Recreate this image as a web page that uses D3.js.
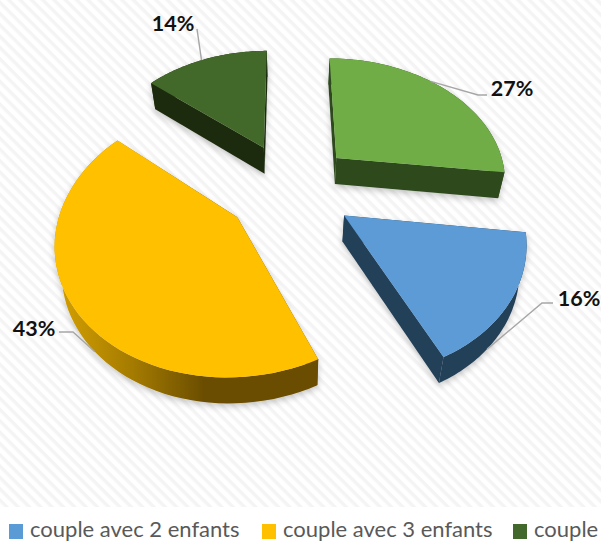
<!DOCTYPE html>
<html><head><meta charset="utf-8">
<script src="https://cdn.jsdelivr.net/npm/d3@7"></script>
<style>html,body{margin:0;padding:0;background:#fff;overflow:hidden}svg{display:block}</style>
</head><body><svg id="c" width="601" height="542"></svg>
<script>
const categories = ["couple avec 2 enfants","couple avec 3 enfants","couple","couple avec 1 enfant"];
const values = [16,43,14,27];
const valueLabels = ["16%","43%","14%","27%"];
const topColors = ["#5b9bd5","#ffc000","#43682b","#70ad47"];
const sideColors = ["#243f58","url(#ySide)","#1d2c10","#2e4a1e"];
const legendShown = [0,1,2];
const legendX = [9,262,513];
// layout
const W=601,H=542;
const P={px:290,py:187.5,a:172,b:124,k:0.16,explode:0.374,depth:26,shrink:0.97};
const labelPos=[[579,298],[34,328],[173,23],[512,88]];
const leaderElbows=[[[542,303],[553,303]],[[73,332],[59,332]],[[197,29]],[[478,95],[487,95]]];
const leaderAnchorAngle=[0.66,0.45,0.46,0.43];
const drawOrder=[2,3,0,1];

const svg=d3.select("#c");
const defs=svg.append("defs");
const pat=defs.append("pattern").attr("id","hatch").attr("width",8).attr("height",8)
  .attr("patternUnits","userSpaceOnUse").attr("patternTransform","rotate(45)");
pat.append("rect").attr("width",8).attr("height",8).attr("fill","#ffffff");
pat.append("rect").attr("width",8).attr("height",3.4).attr("fill","#f4f4f4");
const g=defs.append("linearGradient").attr("id","ySide").attr("gradientUnits","userSpaceOnUse")
  .attr("x1",70).attr("x2",205).attr("y1",0).attr("y2",0);
g.append("stop").attr("offset",0).attr("stop-color","#cc9a00");
g.append("stop").attr("offset",0.45).attr("stop-color","#a67c00");
g.append("stop").attr("offset",1).attr("stop-color","#6a4d00");
const f=defs.append("filter").attr("id","sh").attr("x","-20%").attr("y","-20%").attr("width","140%").attr("height","140%");
f.append("feDropShadow").attr("dx",0).attr("dy",3).attr("stdDeviation",3).attr("flood-color","#000").attr("flood-opacity",0.22);

svg.append("rect").attr("width",W).attr("height",507).attr("fill","url(#hatch)");

const arcs=d3.pie().sort(null).value(d=>d).startAngle(97*Math.PI/180).endAngle((97+360)*Math.PI/180)(values);
const sx=d3.scaleLinear().domain([0,1]).range([0,P.a]);
const sy=d3.scaleLinear().domain([0,1]).range([0,P.b]);
function project(X,Y){const w=1+P.k*Y;return [P.px+sx(X)/w, P.py-sy(Y)/w];}
function lower(p){return [P.px+(p[0]-P.px)*P.shrink,p[1]+P.depth];}
const line=d3.line().curve(d3.curveLinear);

function slice(d){
  const m=(d.startAngle+d.endAngle)/2;
  const ox=P.explode*Math.sin(m),oy=P.explode*Math.cos(m);
  const at=t=>project(ox+Math.sin(t),oy+Math.cos(t));
  const n=60,rim=d3.range(n+1).map(i=>at(d.startAngle+(d.endAngle-d.startAngle)*i/n));
  return {apex:project(ox,oy),rim,at};
}
const pieG=svg.append("g").attr("filter","url(#sh)");
drawOrder.forEach(i=>{
  const s=slice(arcs[i]);
  const G=pieG.append("g");
  const low=s.rim.map(lower),la=lower(s.apex);
  const side=G.append("g").attr("fill",sideColors[i]);
  side.append("path").attr("d",line([s.apex,s.rim[0],low[0],la])+"Z");
  side.append("path").attr("d",line([s.apex,s.rim[s.rim.length-1],low[low.length-1],la])+"Z");
  side.append("path").attr("d",line(s.rim.concat(low.slice().reverse()))+"Z");
  G.append("path").attr("d",line([s.apex].concat(s.rim))+"Z").attr("fill",topColors[i]);
});
// leaders and labels
arcs.forEach((d,i)=>{
  const s=slice(d);
  const idx=Math.round((s.rim.length-1)*leaderAnchorAngle[i]);
  let anchor=s.rim[idx];
  if(i===0||i===1) anchor=lower(anchor);
  svg.append("path").attr("d",line([anchor].concat(leaderElbows[i]))).attr("fill","none")
    .attr("stroke","#a6a6a6").attr("stroke-width",1.4);
  svg.append("text").attr("x",labelPos[i][0]).attr("y",labelPos[i][1]).attr("text-anchor","middle")
    .attr("dominant-baseline","central").attr("font-family","Lato").attr("font-weight",700)
    .attr("font-size",21.5).attr("fill","#111").text(valueLabels[i]);
});
// legend
legendShown.forEach((c,j)=>{
  svg.append("rect").attr("x",legendX[j]).attr("y",524).attr("width",14).attr("height",15).attr("fill",topColors[c]);
  svg.append("text").attr("x",legendX[j]+21).attr("y",537).attr("font-family","Lato").attr("font-size",22)
    .attr("fill","#595959").text(categories[c]);
});
</script></body></html>
